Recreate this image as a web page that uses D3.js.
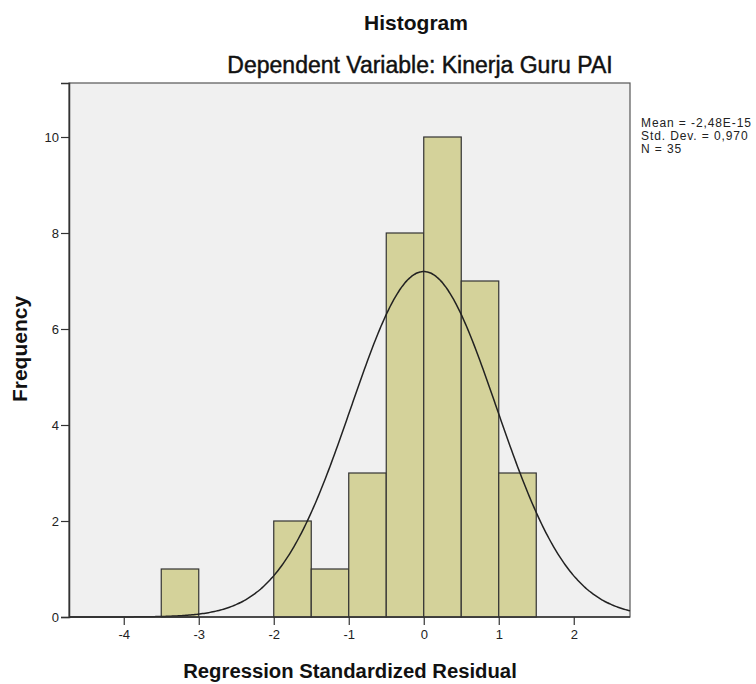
<!DOCTYPE html>
<html><head><meta charset="utf-8">
<script src="https://cdn.jsdelivr.net/npm/d3@7"></script>
<style>body{margin:0;background:#fff}svg{display:block}text{font-family:"Liberation Sans",Arial,sans-serif}</style>
</head><body>
<script>
const binStarts = [-3.5, -3.0, -2.5, -2.0, -1.5, -1.0, -0.5, 0.0, 0.5, 1.0];
const binCounts = [1, 0, 0, 2, 1, 3, 8, 10, 7, 3];
const binWidth = 0.5;
const statMean = -2.48e-15;
const statSD = 0.970;
const statN = 35;
const xTicks = [-4, -3, -2, -1, 0, 1, 2];
const yTicks = [0, 2, 4, 6, 8, 10];
const legendLines = ["Mean = -2,48E-15", "Std. Dev. = 0,970", "N = 35"];

const W = 756, H = 684;
const svg = d3.select("body").append("svg").attr("width", W).attr("height", H);
const L = 69, R = 630, T = 83, B = 617;
const x = d3.scaleLinear().domain([-4.73, 2.75]).range([L, R]);
const y = d3.scaleLinear().domain([0, 11.125]).range([B, T]);

svg.append("rect").attr("x", L).attr("y", T).attr("width", R - L).attr("height", B - T)
  .attr("fill", "#f0f0f0").attr("stroke", "#555").attr("stroke-width", 1.2);

const bins = binStarts.map((s, i) => ({s, c: binCounts[i]})).filter(d => d.c > 0);
svg.append("g").selectAll("rect").data(bins).join("rect")
  .attr("x", d => x(d.s)).attr("y", d => y(d.c))
  .attr("width", d => x(d.s + binWidth) - x(d.s)).attr("height", d => y(0) - y(d.c))
  .attr("fill", "#d4d29a").attr("stroke", "#333").attr("stroke-width", 1.2);

const pts = d3.range(x.domain()[0], x.domain()[1] + 0.001, 0.02).map(v => {
  const z = (v - statMean) / statSD;
  return [v, statN * binWidth * Math.exp(-0.5 * z * z) / (statSD * Math.sqrt(2 * Math.PI))];
});
svg.append("path").datum(pts)
  .attr("d", d3.line().x(d => x(d[0])).y(d => y(d[1])).curve(d3.curveBasis))
  .attr("fill", "none").attr("stroke", "#222").attr("stroke-width", 1.5);

const fmt = d => String(d);
const xa = svg.append("g").attr("transform", `translate(0,${B})`)
  .call(d3.axisBottom(x).tickValues(xTicks).tickSize(8).tickPadding(5).tickFormat(fmt));
const ya = svg.append("g").attr("transform", `translate(${L},0)`)
  .call(d3.axisLeft(y).tickValues(yTicks).tickSize(8).tickPadding(2).tickFormat(fmt));
[xa, ya].forEach(a => {
  a.select(".domain").attr("stroke", "#333").attr("stroke-width", 1.5);
  a.selectAll(".tick line").attr("stroke", "#333").attr("stroke-width", 1.2);
  a.selectAll(".tick text").attr("fill", "#222").style("font-size", "13px");
});
xa.select(".domain").attr("d", `M${L},0H${R}`);

svg.append("text").attr("x", 416).attr("y", 30).attr("text-anchor", "middle")
  .style("font-size", "21px").style("font-weight", "bold").attr("fill", "#111").text("Histogram");
svg.append("text").attr("x", 420).attr("y", 73).attr("text-anchor", "middle")
  .style("font-size", "23px").attr("fill", "#111").attr("stroke", "#111").attr("stroke-width", 0.45)
  .text("Dependent Variable: Kinerja Guru PAI");
svg.append("text").attr("x", 350).attr("y", 678).attr("text-anchor", "middle")
  .style("font-size", "20.3px").style("font-weight", "bold").attr("fill", "#111").text("Regression Standardized Residual");
svg.append("text").attr("transform", "translate(27,349) rotate(-90)").attr("text-anchor", "middle")
  .style("font-size", "21px").style("font-weight", "bold").attr("fill", "#111").text("Frequency");

svg.append("g").selectAll("text").data(legendLines).join("text")
  .attr("x", 641).attr("y", (d, i) => 127 + i * 13)
  .style("font-size", "12px").style("letter-spacing", "0.9px").attr("fill", "#222").text(d => d);
</script>
</body></html>
